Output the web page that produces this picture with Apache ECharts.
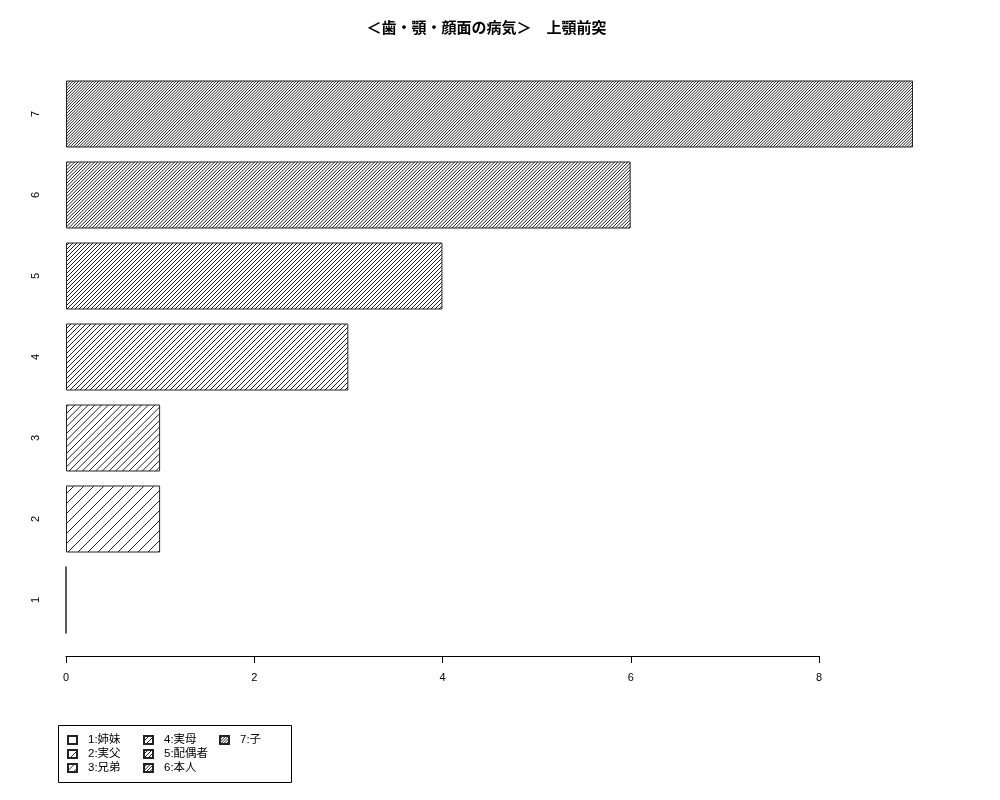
<!DOCTYPE html>
<html>
<head>
<meta charset="utf-8">
<script src="https://cdn.jsdelivr.net/npm/echarts@6/dist/echarts.min.js"></script>
<style>html,body{margin:0;padding:0;background:#fff}#c{width:1000px;height:800px}</style>
</head>
<body>
<div id="c"></div>
<script>
const titleText = '＜歯・顎・顔面の病気＞　上顎前突';
const categories = ['1', '2', '3', '4', '5', '6', '7'];
const values = [0, 1, 1, 3, 4, 6, 9];
const legendNames = ['1:姉妹', '2:実父', '3:兄弟', '4:実母', '5:配偶者', '6:本人', '7:子'];
const xTicks = [0, 2, 4, 6, 8];

const FONT = '"Liberation Sans", "Noto Sans CJK JP", sans-serif';
const chart = echarts.init(document.getElementById('c'));

// hatch pattern tile: n diagonal "/" lines per 20px tile
function hatchPattern(n) {
  const T = 20;
  const cv = document.createElement('canvas');
  cv.width = T; cv.height = T;
  const ctx = cv.getContext('2d');
  ctx.fillStyle = '#fff';
  ctx.fillRect(0, 0, T, T);
  ctx.strokeStyle = '#222';
  ctx.lineWidth = 1;
  const p = T / n;
  ctx.beginPath();
  for (let o = -2 * T; o <= 2 * T; o += p) {
    ctx.moveTo(o, T);
    ctx.lineTo(o + T, 0);
  }
  ctx.stroke();
  return { image: cv, repeat: 'repeat' };
}

const series = categories.map((c, i) => ({
  name: legendNames[i],
  type: 'bar',
  xAxisIndex: 0,
  yAxisIndex: 0,
  barWidth: 67,
  barGap: '-100%',
  data: categories.map((cc, j) => (j === i ? values[j] : '-')),
  itemStyle: {
    color: hatchPattern(i + 1),
    borderColor: '#222',
    borderWidth: 1
  },
  emphasis: { disabled: true }
}));

function legendFor(names, left) {
  return {
    data: names,
    orient: 'vertical',
    left: left,
    top: 734,
    itemWidth: 9,
    itemHeight: 8,
    itemGap: 2,
    padding: 0,
    selectedMode: false,
    icon: 'rect',
    textStyle: { fontFamily: FONT, fontSize: 11.5, lineHeight: 12, color: '#000', padding: [0, 0, 0, 6] }
  };
}

chart.setOption({
  animation: false,
  backgroundColor: '#fff',
  graphic: [
    {
      type: 'text', x: 486.5, y: 29,
      style: { text: titleText, font: 'bold 15px ' + FONT, fill: '#000', textAlign: 'center', textVerticalAlign: 'middle' }
    },
    {
      type: 'rect', shape: { x: 58.5, y: 725.5, width: 233, height: 57 },
      style: { fill: null, stroke: '#000', lineWidth: 1 }
    }
  ],
  legend: [
    legendFor(legendNames.slice(0, 3), 67),
    legendFor(legendNames.slice(3, 6), 143),
    legendFor(legendNames.slice(6, 7), 219)
  ],
  grid: [
    { left: 66, right: 87, top: 73.5, bottom: 159.5 },
    { left: 66, width: 753, top: 655, height: 1 }
  ],
  xAxis: [
    { type: 'value', gridIndex: 0, min: 0, max: 9, show: false },
    {
      type: 'value', gridIndex: 1, min: 0, max: 8, interval: 2, position: 'bottom',
      axisLine: { show: true, onZero: false, lineStyle: { color: '#000', width: 1 } },
      axisTick: { show: true, length: 7, lineStyle: { color: '#000' } },
      splitLine: { show: false },
      axisLabel: { margin: 16, fontFamily: FONT, fontSize: 11, color: '#000',
        formatter: v => (xTicks.indexOf(v) >= 0 ? String(v) : '') }
    }
  ],
  yAxis: [
    {
      type: 'category', gridIndex: 0, data: categories,
      axisLine: { show: false }, axisTick: { show: false }, splitLine: { show: false },
      axisLabel: { rotate: 90, margin: 25, fontFamily: FONT, fontSize: 11, color: '#000' }
    },
    { type: 'value', gridIndex: 1, show: false }
  ],
  series: series
});
</script>
</body>
</html>
